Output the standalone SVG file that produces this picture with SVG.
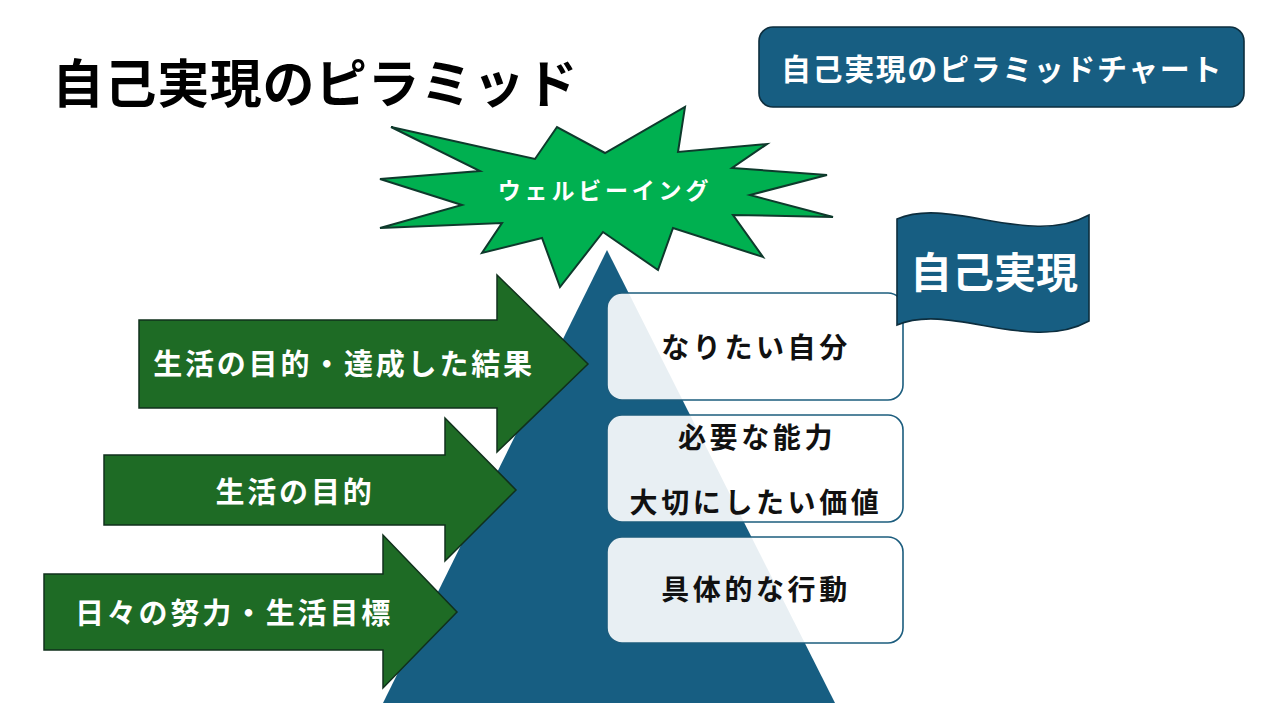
<svg xmlns="http://www.w3.org/2000/svg" width="1280" height="720" viewBox="0 0 1280 720">
  <style>
    text { font-family: "Noto Sans CJK JP", "Noto Sans", sans-serif; font-weight: 700; text-anchor: middle; dominant-baseline: central; }
    .title { font-size: 52px; fill: #000000; letter-spacing: 0.6px; }
    .white { fill: #ffffff; }
    .dark { fill: #111111; }
    .arrow { fill: #1e6b25; stroke: #10301c; stroke-width: 1.5; }
    .box { fill: #ffffff; fill-opacity: 0.9; stroke: #1c5d7e; stroke-width: 1.6; }
    .blue { fill: #175e82; }
  </style>

  <g id="title">
    <text class="title" x="315" y="80">自己実現のピラミッド</text>
  </g>

  <g id="chart-label">
    <rect x="759" y="27" width="485" height="80" rx="14" class="blue" stroke="#0d2e3e" stroke-width="1.6"/>
    <text class="white" x="1002" y="67" font-size="30" letter-spacing="1.6">自己実現のピラミッドチャート</text>
  </g>

  <g id="pyramid">
    <polygon points="607,250 835,703 383,703" class="blue"/>
  </g>

  <g id="arrow-1">
    <polygon class="arrow" points="139,320 497,320 497,275 588,364 497,452 497,408 139,408"/>
    <text class="white" x="344" y="362" font-size="29" letter-spacing="2.8">生活の目的・達成した結果</text>
  </g>

  <g id="arrow-2">
    <polygon class="arrow" points="104,455 445,455 445,418 516,490 445,561 445,525 104,525"/>
    <text class="white" x="295" y="490" font-size="29" letter-spacing="2.8">生活の目的</text>
  </g>

  <g id="arrow-3">
    <polygon class="arrow" points="44,574 383,574 383,535 457,612 383,688 383,650 44,650"/>
    <text class="white" x="234" y="611" font-size="29" letter-spacing="2.8">日々の努力・生活目標</text>
  </g>

  <g id="box-1">
    <rect class="box" x="607" y="293" width="296" height="107" rx="15"/>
    <text class="dark" x="756" y="346" font-size="28" letter-spacing="3.6">なりたい自分</text>
  </g>

  <g id="box-2">
    <rect class="box" x="607" y="415" width="296" height="107" rx="15"/>
    <text class="dark" x="757" y="436" font-size="28" letter-spacing="3.6">必要な能力</text>
    <text class="dark" x="756" y="501" font-size="28" letter-spacing="3.6">大切にしたい価値</text>
  </g>

  <g id="box-3">
    <rect class="box" x="607" y="537" width="296" height="106" rx="15"/>
    <text class="dark" x="756" y="588" font-size="28" letter-spacing="3.6">具体的な行動</text>
  </g>

  <g id="wellbeing">
    <polygon points="391,127 535,159 557,127 605,153 685,107 678,152 767,144 732,168 827,175 750,195 833,217 733,215 763,257 673,228 658,270 603,232 560,287 542,238 482,253 502,223 380,228 462,205 380,179 480,171" fill="#00b050" stroke="#0e3a2c" stroke-width="2" stroke-linejoin="miter"/>
    <text class="white" x="605" y="189" font-size="23" letter-spacing="3.8">ウェルビーイング</text>
  </g>

  <g id="self-actualization-flag">
    <path d="M897,219 C950,196 1030,248 1089,215 L1089,321 C1030,354 950,302 897,325 Z" class="blue" stroke="#0d2e3e" stroke-width="1.6"/>
    <text class="white" x="994" y="269" font-size="42">自己実現</text>
  </g>
</svg>
